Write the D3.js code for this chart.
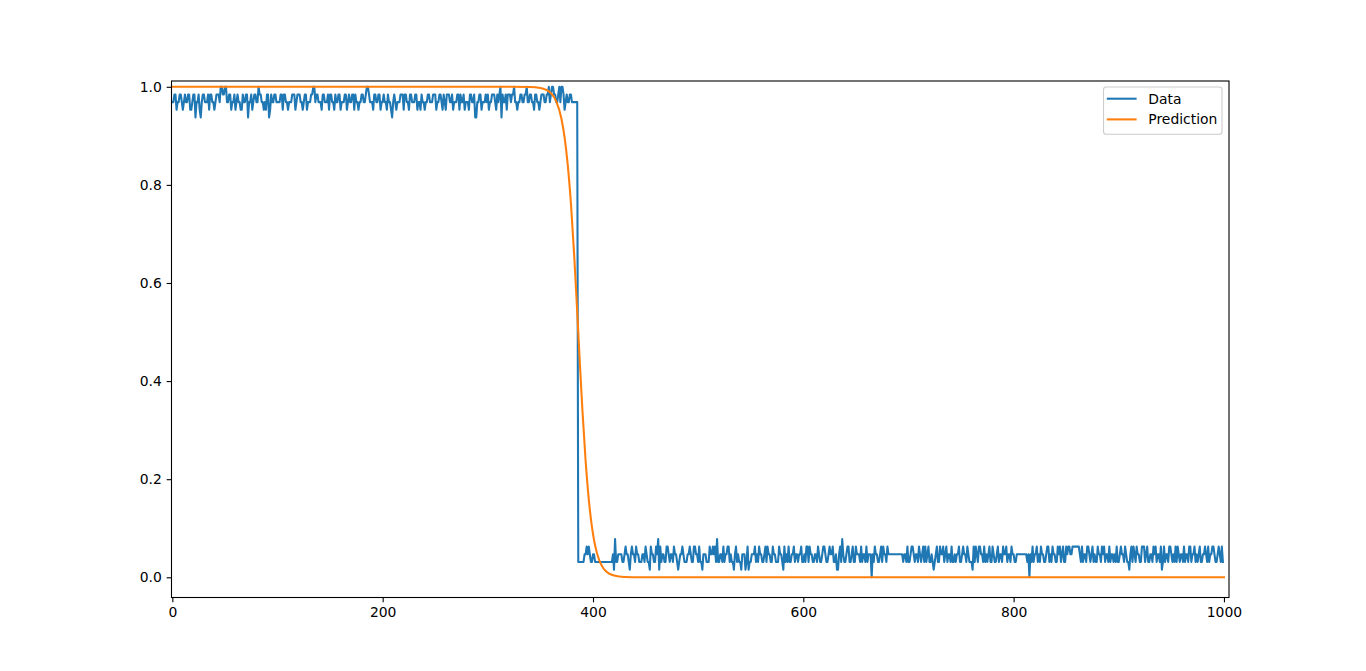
<!DOCTYPE html>
<html><head><meta charset="utf-8">
<script src="https://cdn.jsdelivr.net/npm/d3@7"></script>
<style>
html,body{margin:0;padding:0;background:#fff;}
svg{display:block;font-family:"DejaVu Sans",sans-serif;}
</style></head>
<body>
<svg id="chart" width="1366" height="671"></svg>
<script>
// ---- data ----
// high segment (index 0..385): level h -> (60+h)/64
const highCodes = "2233122332 1232233112 3302231023 3222313322 1233324433 4422331223 1232211322 3302231233 2243322121 3301322332 2223313322 1222333123 3322123312 2233442332 2213322231 3322132233 1222331232 2331322122 3322344322 2133223312 2322132210 2321222333 1332213322 2331221322 1223322233 3122332132 1333223122 2331322312 2213322300 2233122232 3122333213 2340322313 3323342212 2332233422 3322133221 2333223342 3443322342 4431232233 222222";
// low segment (index 386..999): level l -> l/64
const lowCodes = "2222223343 4322332222 2222222222 2223152233 3322343321 3433243322 2332432214 3322435142 3322443233 2433212334 3222334322 4433242213 3322243343 4252233242 3344232213 4232213331 2412233342 3243322342 4332243322 2433214232 4223342332 3342232442 4332233243 2234432234 3342231134 2532234422 3422433324 2332423330 3243322342 4332433333 3333333332 3324223443 2332432342 4234223212 3422433423 4233242232 3342234332 4322214243 2443324232 3422432234 2332433423 3243322333 3333333230 3242334232 4332234423 2433224342 3422434433 4444444324 2332443234 2322433243 4233242332 3242234332 4322134243 2433224442 3422332434 2332412423 3244323242 4323324233 2442334232 3422334324 2334432234 3242";
const lowStart = 386;
// prediction samples (x, y)
const predX = [0, 300, 320, 340, 350, 355, 360, 365, 370, 373, 376, 379, 382, 384, 386, 388, 390, 393, 396, 399, 402, 406, 410, 415, 420, 430, 445, 500, 1000];
const predY = [1.0, 1.0, 0.99998, 0.9995, 0.9975, 0.9943, 0.9871, 0.9707, 0.935, 0.897, 0.841, 0.763, 0.661, 0.583, 0.5, 0.417, 0.339, 0.237, 0.159, 0.103, 0.065, 0.0345, 0.018, 0.0079, 0.0035, 0.00065, 0.00005, 0.0, 0.0];
const xTicks = [0, 200, 400, 600, 800, 1000];
const yTicks = [0.0, 0.2, 0.4, 0.6, 0.8, 1.0];
const seriesNames = ["Data", "Prediction"];
const seriesColors = ["#1f77b4", "#ff7f0e"];

// ---- build ----
const hi = highCodes.replace(/\s/g, "").split("").map(c => (60 + +c) / 64);
const lo = lowCodes.replace(/\s/g, "").split("").map(c => (+c) / 64);
const dataPts = [];
hi.forEach((v, i) => dataPts.push([i, v]));
lo.forEach((v, i) => dataPts.push([lowStart + i, v]));
const predPts = predX.map((x, i) => [x, predY[i]]);

const L = 171.5, R = 1229, T = 81, B = 597.5;
const x = d3.scaleLinear().domain([-0.8, 1004.8]).range([L, R]);
const y = d3.scaleLinear().domain([-0.0412, 1.0118]).range([B, T]);

const svg = d3.select("#chart");
svg.append("defs").append("clipPath").attr("id", "clip")
  .append("rect").attr("x", L).attr("y", T).attr("width", R - L).attr("height", B - T);

const line = d3.line().x(d => x(d[0])).y(d => y(d[1]));
const g = svg.append("g").attr("clip-path", "url(#clip)");
g.append("path").datum(dataPts).attr("d", line)
  .attr("fill", "none").attr("stroke", seriesColors[0]).attr("stroke-width", 2.08)
  .attr("stroke-linejoin", "round").attr("stroke-linecap", "square");
g.append("path").datum(predPts).attr("d", line.curve(d3.curveMonotoneX))
  .attr("fill", "none").attr("stroke", seriesColors[1]).attr("stroke-width", 2.08)
  .attr("stroke-linejoin", "round").attr("stroke-linecap", "square");

// axes
const xAxis = d3.axisBottom(x).tickValues(xTicks).tickSize(4.86).tickPadding(4.9).tickFormat(d3.format("d"));
const yAxis = d3.axisLeft(y).tickValues(yTicks).tickSize(4.86).tickPadding(4.9).tickFormat(d3.format(".1f"));
const gx = svg.append("g").attr("transform", `translate(0,${B})`).call(xAxis);
const gy = svg.append("g").attr("transform", `translate(${L},0)`).call(yAxis);
[gx, gy].forEach(a => {
  a.select(".domain").remove();
  a.selectAll(".tick line").attr("stroke", "#000").attr("stroke-width", 1.1);
  a.selectAll(".tick text").attr("fill", "#000").attr("font-size", "13.9px")
    .attr("font-family", "DejaVu Sans, sans-serif");
});

// spines
svg.append("rect").attr("x", L).attr("y", T).attr("width", R - L).attr("height", B - T)
  .attr("fill", "none").attr("stroke", "#000").attr("stroke-width", 1.1);

// legend
const lg = svg.append("g");
lg.append("rect").attr("x", 1103.5).attr("y", 87).attr("width", 118.5).attr("height", 47.3)
  .attr("rx", 2.8).attr("fill", "#fff").attr("fill-opacity", 0.8)
  .attr("stroke", "#cccccc").attr("stroke-width", 1.1);
seriesNames.forEach((n, i) => {
  const yy = 98.7 + i * 20.7;
  lg.append("line").attr("x1", 1106.8).attr("x2", 1136.6).attr("y1", yy).attr("y2", yy)
    .attr("stroke", seriesColors[i]).attr("stroke-width", 2.08);
  lg.append("text").attr("x", 1148.3).attr("y", yy).attr("dy", "0.36em")
    .attr("font-size", "13.9px").attr("fill", "#000").text(n);
});
</script>
</body></html>
